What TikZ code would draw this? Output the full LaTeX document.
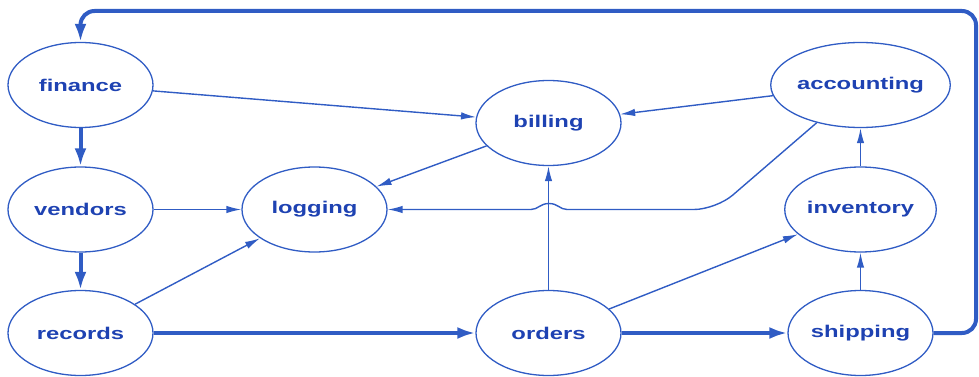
\documentclass[tikz,border=0pt]{standalone}
\usepackage{fontspec}
\setmainfont{Liberation Sans}
\usetikzlibrary{shapes.geometric,arrows.meta}
\definecolor{lineblue}{RGB}{48,92,196}
\definecolor{textblue}{RGB}{30,66,178}
\tikzset{
  proc/.style={ellipse, draw=lineblue, line width=1.3pt, minimum width=145pt, minimum height=85pt, inner sep=0pt,
    font=\fontsize{17}{17}\selectfont\bfseries, text=textblue},
  thinline/.style={draw=lineblue, line width=1.4pt},
  thinedge/.style={thinline, -{Latex[length=15pt,width=7.5pt]}},
  thickedge/.style={draw=lineblue, line width=4pt, -{Latex[length=18pt,width=12pt]}},
}
\newcommand{\lbl}[1]{\scalebox{1.4}[1]{#1}}
\begin{document}
\begin{tikzpicture}[x=1pt,y=-1pt]
\useasboundingbox (0,0) rectangle (979,377);
\node[proc] (finance) at (80.5,85) {\lbl{finance}};
\node[proc] (vendors) at (80.5,209.5) {\lbl{vendors}};
\node[proc] (records) at (80.5,333) {\lbl{records}};
\node[proc] (logging) at (314.5,209.5) {\lbl{logging}};
\node[proc] (billing) at (548.5,123) {\lbl{billing}};
\node[proc] (orders) at (548.5,333) {\lbl{orders}};
\node[proc] (accounting) at (860.5,85) {\lbl{accounting}};
\node[proc] (inventory) at (860.5,209.5) {\lbl{inventory}};
\node[proc] (shipping) at (860.5,333) {\lbl{shipping}};

\coordinate (loopA) at (976,333);
\coordinate (loopB) at (976,11);
\coordinate (loopC) at (80.5,11);
\coordinate (bend) at (716,209.5);
\coordinate (hopR) at (567,209.5);
\coordinate (hopL) at (531,209.5);

% thick edges
\draw[thickedge] (finance) -- (vendors);
\draw[thickedge] (vendors) -- (records);
\draw[thickedge] (records) -- (orders);
\draw[thickedge] (orders) -- (shipping);
\draw[thickedge, rounded corners=14pt] (shipping) -- (loopA) -- (loopB) -- (loopC) -- (finance);

% thin edges
\draw[thinedge] (finance) -- (billing);
\draw[thinedge] (accounting) -- (billing);
\draw[thinedge] (billing) -- (logging);
\draw[thinedge] (vendors) -- (logging);
\draw[thinedge] (records) -- (logging);
\draw[thinedge] (orders) -- (billing);
\draw[thinedge] (orders) -- (inventory);
\draw[thinedge] (shipping) -- (inventory);
\draw[thinedge] (inventory) -- (accounting);
% accounting -> logging, hopping over orders -> billing
\draw[thinline, rounded corners=22pt] (accounting) -- (bend) -- (hopR);
\draw[thinedge] (hopR)
  .. controls (560,209.5) and (558,203.5) .. (549,203.5)
  .. controls (540,203.5) and (538,209.5) .. (hopL)
  -- (logging);
\end{tikzpicture}
\end{document}
